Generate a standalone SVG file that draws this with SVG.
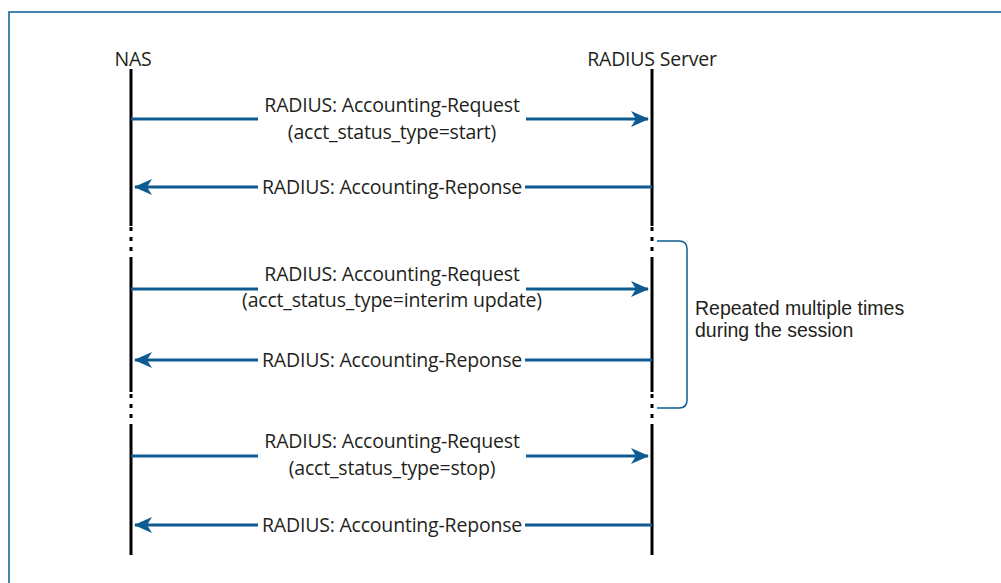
<svg xmlns="http://www.w3.org/2000/svg" width="1001" height="583" viewBox="0 0 1001 583">
<style>
text{font-family:"Open Sans","Noto Sans",sans-serif;font-size:19.5px;fill:#231f20;letter-spacing:-0.2px}
.c{text-anchor:middle}
.note{font-family:"Liberation Sans",Arial,sans-serif;font-size:19.5px;letter-spacing:0}
.life{stroke:#000;stroke-width:3;fill:none}
.dash{stroke:#000;stroke-width:3;stroke-dasharray:4 6;fill:none}
.msg{stroke:#0d5b91;stroke-width:3;fill:none}
.frame{stroke:#0d5b91;stroke-width:1.5;fill:none}
</style>
<defs>
<marker id="ah" viewBox="0 0 18 16" refX="17" refY="8" markerWidth="18" markerHeight="16" markerUnits="userSpaceOnUse" orient="auto">
<path d="M0,0 L18,8 L0,16 L5,8 Z" fill="#0d5b91"/>
</marker>
</defs>
<path class="frame" d="M9,583 V12 H1001"/>
<g id="nas">
<text class="c" x="133" y="66">NAS</text>
<path class="life" d="M131,69 V226 M131,258 V392 M131,428 V555"/>
<path class="dash" d="M131,227 V258 M131,394 V428"/>
</g>
<g id="server">
<text class="c" x="652" y="66">RADIUS Server</text>
<path class="life" d="M652,69 V226 M652,258 V392 M652,428 V555"/>
<path class="dash" d="M652,227 V258 M652,394 V428"/>
</g>
<g id="bracket">
<path class="frame" d="M657,241 H679 Q687,241 687,249 V400 Q687,408 679,408 H657"/>
<text class="note" x="695" y="315">Repeated multiple times</text>
<text class="note" x="695" y="337">during the session</text>
</g>
<g id="connectors">
<path class="msg" d="M131,119 H258"/>
<path class="msg" d="M526,119 H648" marker-end="url(#ah)"/>
<text class="c" x="392" y="112">RADIUS: Accounting-Request</text>
<text class="c" x="392" y="139">(acct_status_type=start)</text>
<path class="msg" d="M652,187 H525"/>
<path class="msg" d="M258,187 H135" marker-end="url(#ah)"/>
<text class="c" x="392" y="194">RADIUS: Accounting-Reponse</text>
<path class="msg" d="M131,289 H258"/>
<path class="msg" d="M526,289 H648" marker-end="url(#ah)"/>
<text class="c" x="392" y="281">RADIUS: Accounting-Request</text>
<text class="c" x="392" y="307">(acct_status_type=interim update)</text>
<path class="msg" d="M652,360 H525"/>
<path class="msg" d="M258,360 H135" marker-end="url(#ah)"/>
<text class="c" x="392" y="367">RADIUS: Accounting-Reponse</text>
<path class="msg" d="M131,456 H258"/>
<path class="msg" d="M526,456 H648" marker-end="url(#ah)"/>
<text class="c" x="392" y="448">RADIUS: Accounting-Request</text>
<text class="c" x="392" y="475">(acct_status_type=stop)</text>
<path class="msg" d="M652,525 H525"/>
<path class="msg" d="M258,525 H135" marker-end="url(#ah)"/>
<text class="c" x="392" y="532">RADIUS: Accounting-Reponse</text>
</g>
</svg>
